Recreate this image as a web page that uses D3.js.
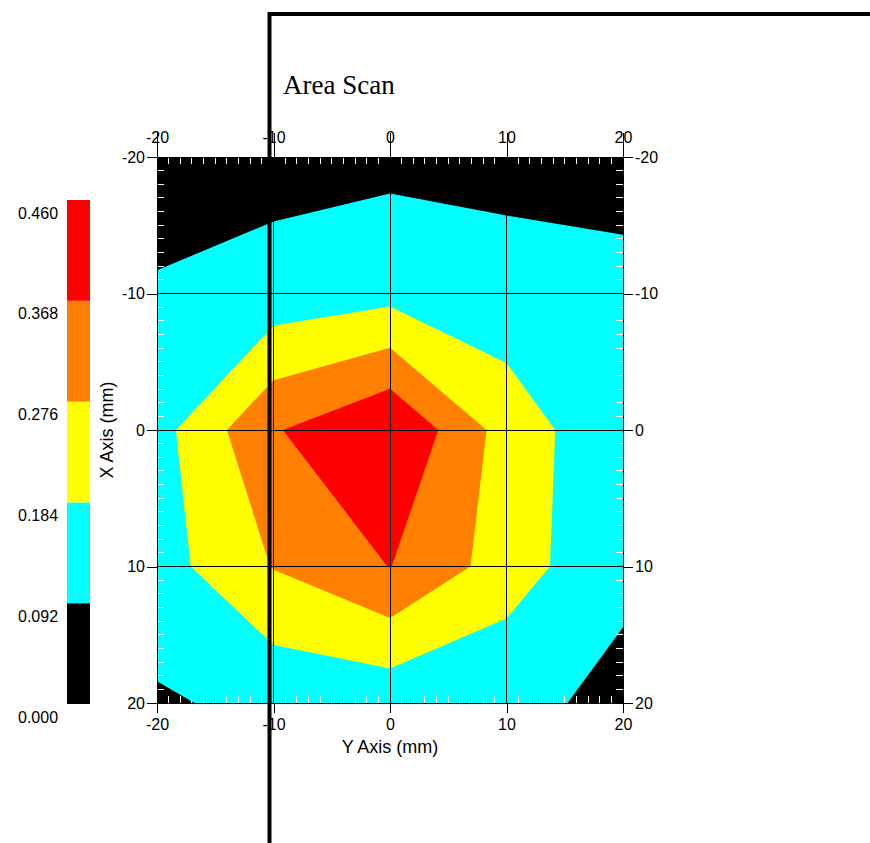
<!DOCTYPE html>
<html><head><meta charset="utf-8">
<script src="https://cdn.jsdelivr.net/npm/d3@7"></script>
<style>
body{margin:0;background:#fff;}
svg{display:block;}
text{font-family:Arial,"Liberation Sans",sans-serif;fill:#000;}
</style>
</head><body>
<svg id="chart" width="870" height="843"></svg>
<script>
// Horizontal axis ("Y Axis (mm)") sample positions = grid columns
const yAxisPositions = [-20, -10, 0, 10, 20];
// Vertical axis ("X Axis (mm)") sample positions = grid rows (top to bottom)
const xAxisPositions = [-20, -10, 0, 10, 20];
// Measured values per row (X = -20 ... 20), each listing Y = -20 ... 20
const rowXm20 = [0.053, 0.058, 0.069, 0.065, 0.055];
const rowXm10 = [0.100, 0.130, 0.155, 0.128, 0.120];
const rowX0   = [0.150, 0.360, 0.460, 0.238, 0.109];
const rowX10  = [0.145, 0.280, 0.370, 0.234, 0.100];
const rowX20  = [0.082, 0.113, 0.121, 0.103, 0.082];
// Contour levels and legend
const levels = [0.000, 0.092, 0.184, 0.276, 0.368, 0.460];
const levelLabels = ["0.000", "0.092", "0.184", "0.276", "0.368", "0.460"];
const bandColors = ["#000000", "#00ffff", "#ffff00", "#ff8000", "#ff0000"];
const tickValues = [-20, -10, 0, 10, 20];
const tickLabels = ["-20", "-10", "0", "10", "20"];
const minorTicks = d3.range(-19, 20).filter(d => d % 10 !== 0);

const svg = d3.select("#chart");
const x = d3.scaleLinear().domain([-20, 20]).range([157, 623]);
const y = d3.scaleLinear().domain([-20, 20]).range([157, 703]);
const fmt = d => tickLabels[tickValues.indexOf(d)];

// grid-space (d3.contours) -> data coordinate
const gx = d3.scaleLinear().domain([0.5, yAxisPositions.length - 0.5])
  .range([yAxisPositions[0], yAxisPositions[yAxisPositions.length - 1]]).clamp(true);
const gy = d3.scaleLinear().domain([0.5, xAxisPositions.length - 0.5])
  .range([xAxisPositions[0], xAxisPositions[xAxisPositions.length - 1]]).clamp(true);

const values = [].concat(rowXm20, rowXm10, rowX0, rowX10, rowX20);
const contours = d3.contours()
  .size([yAxisPositions.length, xAxisPositions.length])
  .thresholds(levels.slice(1, levels.length - 1))(values);

const proj = d3.geoTransform({
  point: function(px, py) { this.stream.point(x(gx(px)), y(gy(py))); }
});
const path = d3.geoPath(proj);

const plot = svg.append("g");
plot.append("rect")
  .attr("x", x(-20)).attr("y", y(-20))
  .attr("width", x(20) - x(-20)).attr("height", y(20) - y(-20))
  .attr("fill", bandColors[0]);
plot.selectAll("path.band").data(contours).join("path")
  .attr("class", "band")
  .attr("d", path)
  .attr("fill", (d, i) => bandColors[i + 1])
  .attr("stroke", "none");

// minor white ticks inside frame
const mt = svg.append("g").attr("stroke", "#fff").attr("stroke-width", 1).attr("shape-rendering", "crispEdges");
minorTicks.forEach(v => {
  mt.append("line").attr("x1", x(v)).attr("x2", x(v)).attr("y1", y(-20)).attr("y2", y(-20) + 7);
  mt.append("line").attr("x1", x(v)).attr("x2", x(v)).attr("y1", y(20)).attr("y2", y(20) - 7);
  mt.append("line").attr("y1", y(v)).attr("y2", y(v)).attr("x1", x(-20)).attr("x2", x(-20) + 7);
  mt.append("line").attr("y1", y(v)).attr("y2", y(v)).attr("x1", x(20)).attr("x2", x(20) - 7);
});

// grid lines
const grid = svg.append("g").attr("stroke", "#000").attr("stroke-width", 1).attr("shape-rendering", "crispEdges");
[-10, 0, 10].forEach(v => {
  grid.append("line").attr("x1", x(v)).attr("x2", x(v)).attr("y1", y(-20)).attr("y2", y(20));
  grid.append("line").attr("y1", y(v)).attr("y2", y(v)).attr("x1", x(-20)).attr("x2", x(20));
});
// frame
svg.append("rect")
  .attr("x", x(-20)).attr("y", y(-20))
  .attr("width", x(20) - x(-20)).attr("height", y(20) - y(-20))
  .attr("fill", "none").attr("stroke", "#000").attr("shape-rendering", "crispEdges");

function styleAxis(g) {
  g.select(".domain").remove();
  g.selectAll("line").attr("stroke", "#000").attr("shape-rendering", "crispEdges");
  g.selectAll("text").attr("font-size", 16).attr("font-family", "Arial, 'Liberation Sans', sans-serif").attr("fill", "#000");
}
svg.append("g").attr("transform", `translate(0,${y(-20)})`)
  .call(d3.axisTop(x).tickValues(tickValues).tickSize(24).tickPadding(-10).tickFormat(fmt))
  .call(styleAxis);
svg.append("g").attr("transform", `translate(0,${y(20)})`)
  .call(d3.axisBottom(x).tickValues(tickValues).tickSize(10).tickPadding(6).tickFormat(fmt))
  .call(styleAxis);
svg.append("g").attr("transform", `translate(${x(-20)},0)`)
  .call(d3.axisLeft(y).tickValues(tickValues).tickSize(10).tickPadding(2).tickFormat(fmt))
  .call(styleAxis);
svg.append("g").attr("transform", `translate(${x(20)},0)`)
  .call(d3.axisRight(y).tickValues(tickValues).tickSize(10).tickPadding(2).tickFormat(fmt))
  .call(styleAxis);

// axis titles
svg.append("text").attr("x", x(0)).attr("y", 753).attr("text-anchor", "middle")
  .attr("font-size", 18).text("Y Axis (mm)");
svg.append("text").attr("transform", `translate(113,${y(0)}) rotate(-90)`).attr("text-anchor", "middle")
  .attr("font-size", 18).text("X Axis (mm)");

// title
svg.append("text").attr("x", 283).attr("y", 94).attr("font-size", 27)
  .style("font-family", "'Liberation Serif','Times New Roman',serif").text("Area Scan");

// legend
const lg = d3.scaleLinear().domain([levels[0], levels[levels.length - 1]]).range([704, 200]);
const leg = svg.append("g");
leg.selectAll("rect").data(bandColors).join("rect")
  .attr("x", 67).attr("width", 23)
  .attr("y", (d, i) => lg(levels[i + 1]))
  .attr("height", (d, i) => lg(levels[i]) - lg(levels[i + 1]))
  .attr("fill", d => d);
leg.selectAll("text").data(levelLabels).join("text")
  .attr("x", 18).attr("y", (d, i) => lg(levels[i]) + 13)
  .attr("dy", "0.35em").attr("font-size", 16).text(d => d);

// overlapping window border from the screenshot
const win = svg.append("g").attr("stroke", "#000").attr("stroke-width", 4).attr("fill", "none");
win.append("path").attr("d", "M269.5,843 V14 H870");
</script>
</body></html>
